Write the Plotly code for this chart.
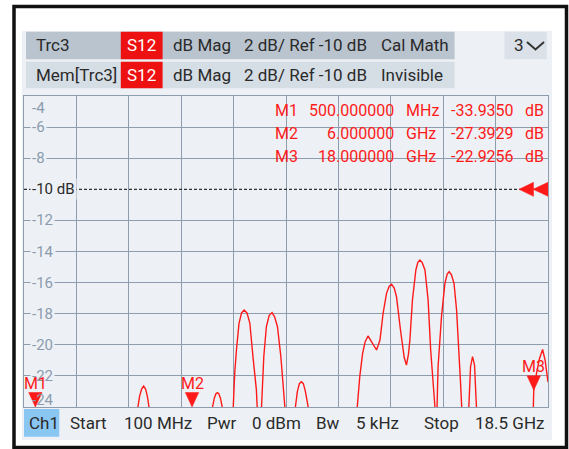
import plotly.graph_objects as go

# ---------------- data ----------------
freq_ghz = [
    0.10, 0.50, 1.20, 2.00, 2.80, 3.50, 4.00,
    4.10, 4.16, 4.23, 4.30, 4.37, 4.43, 4.49, 4.60, 4.90, 5.40,
    6.00, 6.40, 6.65, 6.72, 6.78, 6.84, 6.89, 6.94, 7.00, 7.06, 7.15, 7.30, 7.40,
    7.44, 7.50, 7.56, 7.65, 7.74, 7.83, 7.93, 8.03, 8.14, 8.26, 8.30, 8.36, 8.41,
    8.44, 8.52, 8.61, 8.71, 8.81, 8.90, 9.00, 9.12, 9.22, 9.26, 9.34, 9.50, 9.58,
    9.63, 9.70, 9.77, 9.84, 9.91, 9.98, 10.08, 10.20, 10.50, 10.90, 11.30, 11.60,
    11.80, 11.89, 11.99, 12.08, 12.18, 12.30, 12.40, 12.48, 12.60, 12.71, 12.83,
    12.92, 13.01, 13.10, 13.18, 13.32, 13.45, 13.53, 13.60, 13.65, 13.74, 13.86,
    13.93, 14.00, 14.08, 14.18, 14.29, 14.38, 14.47, 14.53, 14.57, 14.61, 14.64,
    14.76, 14.88, 14.96, 15.03, 15.11, 15.20, 15.29, 15.37, 15.43, 15.47, 15.55,
    15.65, 15.73, 15.78, 15.85, 15.92, 15.97, 15.99, 16.10, 16.50, 16.90, 17.30,
    17.70, 17.95, 18.00, 18.10, 18.20, 18.31, 18.40, 18.50,
]
s12_db = [
    -38.0, -33.94, -36.5, -31.0, -34.0, -29.5, -27.5,
    -24.0, -23.3, -22.85, -22.65, -22.85, -23.3, -24.0, -27.0, -30.5, -29.0,
    -27.39, -26.8, -25.5, -24.0, -23.45, -23.15, -23.08, -23.15, -23.45, -24.0, -26.5, -28.5, -26.0,
    -24.0, -21.8, -20.33, -18.62, -17.95, -17.76, -17.95, -18.6, -20.77, -22.9, -24.5, -27.5, -26.0,
    -24.0, -20.77, -18.84, -18.1, -17.93, -18.2, -18.84, -20.77, -22.9, -24.0, -28.0, -29.5, -26.0,
    -24.0, -23.0, -22.5, -22.37, -22.5, -23.0, -24.0, -27.5, -31.0, -29.5, -33.0, -28.5,
    -24.0, -22.05, -20.55, -19.8, -19.43, -19.75, -20.1, -20.33, -19.69, -17.97, -16.69,
    -16.25, -16.11, -16.35, -16.91, -19.05, -20.8, -21.30, -20.6, -19.69, -17.12, -15.19,
    -14.7, -14.55, -14.7, -15.19, -17.12, -20.33, -22.48, -24.0, -26.5, -24.0, -21.41,
    -18.19, -16.05, -15.45, -15.30, -15.5, -16.05, -17.76, -20.12, -22.48, -24.0, -28.0,
    -27.0, -24.0, -21.41, -20.76, -21.3, -23.34, -24.0, -28.0, -31.0, -29.0, -32.0,
    -28.0, -26.5, -22.93, -21.8, -20.9, -20.3, -21.0, -22.4,
]

marker_names = ["M1", "M2", "M3"]
marker_freq_ghz = [0.5, 6.0, 18.0]
marker_db = [-33.9350, -27.3929, -22.9256]

start_ghz = 0.1
stop_ghz = 18.5
ref_level_db = -10
y_top_db = -4
y_bottom_db = -24
y_tick_values = [-4, -6, -8, -10, -12, -14, -16, -18, -20, -22, -24]
y_tick_labels = ["-4", "-6", "-8", "-10 dB", "-12", "-14", "-16", "-18", "-20", "-22", "-24"]
x_divisions = 10

header_row1 = ["Trc3", "S12", "dB Mag", "2 dB/ Ref -10 dB", "Cal Math"]
header_row2 = ["Mem[Trc3]", "S12", "dB Mag", "2 dB/ Ref -10 dB", "Invisible"]
window_label = "3"
channel_label = "Ch1"
footer_labels = ["Start", "Pwr", "Bw", "Stop"]
footer_values = ["100 MHz", "0 dBm", "5 kHz", "18.5 GHz"]

# ---------------- style / layout ----------------
FIG_W, FIG_H = 569, 449
ML, MR, MT, MB = 24, 21, 96, 42
PW = FIG_W - ML - MR
PH = FIG_H - MT - MB

FONT = "Roboto"
RED = "#ff1a1a"
GRID = "#8e9dad"
PANEL = "#edf1f5"
ROW1 = "#b9c4cf"
ROW2 = "#d5dde5"
TEXT = "#2a2a2a"
YLAB = "#8b9bae"


def px_x(px):
    return (px - ML) / PW


def px_y(py):
    return 1 - (py - MT) / PH


def rect(x0, y0, x1, y1, fill, line_color=None, line_width=0, layer="below"):
    return dict(type="rect", xref="paper", yref="paper",
                x0=px_x(x0), x1=px_x(x1), y0=px_y(y0), y1=px_y(y1),
                fillcolor=fill, line=dict(color=line_color or fill, width=line_width),
                layer=layer)


def text(s, x, y, anchor="left", color=TEXT, size=17, **kw):
    return dict(text=s, xref="paper", yref="paper", x=px_x(x), y=px_y(y),
                xanchor=anchor, yanchor="middle", showarrow=False,
                font=dict(family=FONT, size=size, color=color), **kw)


fig = go.Figure()
fig.add_trace(go.Scatter(x=freq_ghz, y=s12_db, mode="lines",
                         line=dict(color=RED, width=1.4), hoverinfo="skip"))

step = (stop_ghz - start_ghz) / x_divisions
x_grid = [start_ghz + i * step for i in range(x_divisions + 1)]

shapes = []
annotations = []

# frame and panels
shapes.append(rect(22, 31, 552, 440, PANEL))
shapes.append(dict(type="rect", xref="paper", yref="paper",
                   x0=px_x(14), x1=px_x(566.5), y0=px_y(6.5), y1=px_y(447.5),
                   line=dict(color="#111111", width=3.5), fillcolor="rgba(0,0,0,0)",
                   layer="below"))
# header rows
row_y = [(31.7, 59.3), (61.7, 88.3)]
row_fill = [ROW1, ROW2]
for (y0, y1), fill, row in zip(row_y, row_fill, [header_row1, header_row2]):
    shapes.append(rect(26, y0, 454.6, y1, fill))
    shapes.append(rect(120.8, y0, 162.6, y1, "#ee1111"))
    yc = (y0 + y1) / 2
    annotations.append(text(row[0], 33.5, yc))
    annotations.append(text(row[1], 141.7, yc, anchor="center", color="white"))
    annotations.append(text(row[2], 170.5, yc))
    annotations.append(text(row[3], 242.4, yc))
    annotations.append(text(row[4], 379.2, yc))
# window selector
shapes.append(rect(504.4, 31.7, 546.8, 59.3, "#dae1e8"))
annotations.append(text(window_label, 511.5, 45.5))
shapes.append(dict(type="path", xref="paper", yref="paper",
                   path="M {:.5f} {:.5f} L {:.5f} {:.5f} L {:.5f} {:.5f}".format(
                       px_x(527), px_y(42), px_x(535.5), px_y(49.5), px_x(544), px_y(42)),
                   line=dict(color="#333333", width=2), layer="above"))
# footer
shapes.append(rect(24, 409, 59.3, 436.7, "#8ac6f2"))
annotations.append(text(channel_label, 26.7, 423))
foot_label_x = [67.7, 205, 314, 422]
foot_value_x = [121.7, 250, 354, 473]
for lab, val, lx, vx in zip(footer_labels, footer_values, foot_label_x, foot_value_x):
    annotations.append(text(lab, lx, 423))
    annotations.append(text(val, vx, 423))

# y labels inside plot
for v, lab in zip(y_tick_values, y_tick_labels):
    shift = 0
    bg = PANEL
    if v == y_top_db:
        shift = -12
        bg = None
    if v == y_bottom_db:
        shift = 7
        bg = None
    a = dict(text=lab, xref="paper", yref="y", x=px_x(30), y=v, yshift=shift,
             xanchor="left", yanchor="middle", showarrow=False, borderpad=1,
             font=dict(family=FONT, size=15, color=TEXT if v == ref_level_db else YLAB))
    if bg:
        a["bgcolor"] = bg
    annotations.append(a)

# reference line and ref arrows
shapes.append(dict(type="line", xref="paper", yref="y", x0=0, x1=1,
                   y0=ref_level_db, y1=ref_level_db,
                   line=dict(color="black", width=1, dash="3px,2px"), layer="above"))
shapes.append(dict(type="path", xref="x", yref="y", xsizemode="pixel", ysizemode="pixel",
                   xanchor=stop_ghz, yanchor=ref_level_db,
                   path="M -29 0 L -14.5 7 L -14.5 -7 Z M -15 0 L 0 7 L 0 -7 Z",
                   fillcolor=RED, line=dict(color=RED, width=0.5), layer="above"))

# markers
for name, f, v in zip(marker_names, marker_freq_ghz, marker_db):
    yv = max(v, y_bottom_db)
    shapes.append(dict(type="path", xref="x", yref="y", xsizemode="pixel", ysizemode="pixel",
                       xanchor=f, yanchor=yv, path="M -6.7 14.5 L 6.7 14.5 L 0 0 Z",
                       fillcolor=RED, line=dict(color=RED, width=0.5), layer="above"))
    annotations.append(dict(text=name, x=f, y=yv, xref="x", yref="y", yshift=24,
                            showarrow=False, xanchor="center", yanchor="middle",
                            font=dict(family=FONT, size=16, color=RED)))

# marker table
row_py = [110, 133.5, 156.5]
for name, f, v, py in zip(marker_names, marker_freq_ghz, marker_db, row_py):
    if f < 1:
        fs, unit = "{:.6f}".format(f * 1000), "MHz"
    else:
        fs, unit = "{:.6f}".format(f), "GHz"
    annotations.append(text(name, 273.3, py, color=RED, size=16))
    annotations.append(text(fs, 395.5, py, anchor="right", color=RED, size=16))
    annotations.append(text(unit, 404.3, py, color=RED, size=16))
    annotations.append(text("{:.4f}".format(v), 516, py, anchor="right", color=RED, size=16))
    annotations.append(text("dB", 523.3, py, color=RED, size=16))

fig.update_layout(
    width=FIG_W, height=FIG_H, autosize=False,
    margin=dict(l=ML, r=MR, t=MT, b=MB, pad=0),
    paper_bgcolor="white", plot_bgcolor=PANEL,
    showlegend=False,
    xaxis=dict(range=[start_ghz, stop_ghz], tickvals=x_grid, showticklabels=False,
               ticks="", showgrid=True, gridcolor=GRID, gridwidth=1, zeroline=False,
               showline=True, mirror=True, linecolor=GRID, linewidth=1, fixedrange=True),
    yaxis=dict(range=[y_bottom_db, y_top_db],
               tickvals=[v for v in y_tick_values if v != ref_level_db],
               showticklabels=False, ticks="", showgrid=True, gridcolor=GRID, gridwidth=1,
               zeroline=False, showline=True, mirror=True, linecolor=GRID, linewidth=1,
               fixedrange=True),
    shapes=shapes,
    annotations=annotations,
)

fig.write_html("out.html", config={"displayModeBar": False},
               post_script="document.body.style.margin='0px';document.body.style.padding='0px';")
